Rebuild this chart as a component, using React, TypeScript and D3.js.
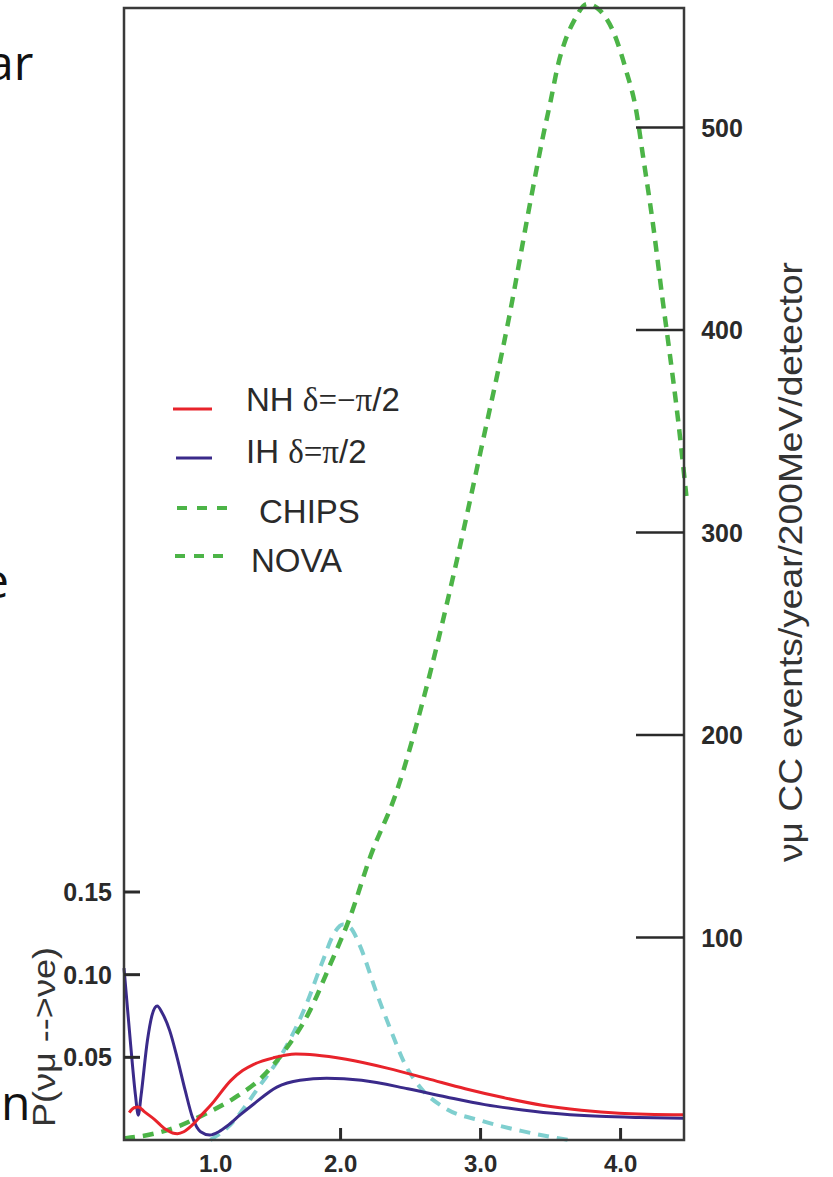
import React from "react";
import * as d3 from "d3";

const xTicks = [1, 2, 3, 4];
const xTickLabels = ["1.0", "2.0", "3.0", "4.0"];
const pTicks = [0.05, 0.1, 0.15];
const pTickLabels = ["0.05", "0.10", "0.15"];
const nTicks = [100, 200, 300, 400, 500];
const nTickLabels = ["100", "200", "300", "400", "500"];

// P(numu -> nue), NH delta = -pi/2
const nhE = [0.49, 0.525, 0.555, 0.6, 0.67, 0.75, 0.8, 0.835, 0.88, 0.94, 1.0, 1.08, 1.217, 1.3, 1.38, 1.52, 1.68, 1.82, 2.04, 2.34, 2.62, 2.89, 3.17, 3.44, 3.72, 3.99, 4.453];
const nhP = [0.0165, 0.0195, 0.02, 0.017, 0.0125, 0.0065, 0.0042, 0.0038, 0.005, 0.009, 0.0145, 0.0218, 0.0361, 0.042, 0.0458, 0.0497, 0.052, 0.0514, 0.0488, 0.0433, 0.0371, 0.031, 0.0255, 0.021, 0.018, 0.0162, 0.0152];

// IH delta = pi/2
const ihE = [0.453, 0.5, 0.535, 0.555, 0.575, 0.62, 0.655, 0.69, 0.725, 0.78, 0.832, 0.89, 0.942, 1.0, 1.066, 1.13, 1.19, 1.28, 1.38, 1.545, 1.71, 1.9, 2.15, 2.48, 2.755, 3.03, 3.3, 3.58, 3.85, 4.13, 4.453];
const ihP = [0.104, 0.058, 0.027, 0.015, 0.027, 0.06, 0.076, 0.081, 0.077, 0.066, 0.05, 0.03, 0.0137, 0.005, 0.003, 0.005, 0.0085, 0.015, 0.0218, 0.032, 0.0361, 0.0373, 0.0361, 0.031, 0.026, 0.0214, 0.0182, 0.0157, 0.0143, 0.0136, 0.0132];

// CHIPS event spectrum (right axis)
const chipsE = [0.453, 0.64, 0.85, 1.025, 1.245, 1.437, 1.6, 1.77, 1.93, 2.07, 2.21, 2.4, 2.6, 2.8, 3.0, 3.2, 3.36, 3.444, 3.5, 3.557, 3.6, 3.67, 3.76, 3.85, 3.95, 4.04, 4.11, 4.16, 4.23, 4.3, 4.35, 4.41, 4.47];
const chipsN = [0.8, 2.7, 7, 12.6, 20.9, 30.9, 44.1, 62.4, 87.3, 110.5, 139.5, 172, 220, 277, 340, 405, 465, 495, 513, 532, 542, 553, 561, 558, 547, 528, 509, 486, 453, 415, 389, 356, 318];

// NOVA event spectrum (right axis)
const novaE = [1.07, 1.19, 1.43, 1.594, 1.758, 1.867, 1.962, 2.017, 2.07, 2.14, 2.25, 2.36, 2.46, 2.57, 2.74, 3.01, 3.29, 3.63];
const novaN = [0, 6, 27.5, 44, 67.4, 87.4, 103, 106.4, 104.8, 95.6, 74, 54, 37.5, 25.9, 16, 9.4, 4.5, 0];

const legendLabels = ["NH", "IH", "CHIPS", "NOVA"];

const RED = "#e8232b";
const BLUE = "#3a2a8a";
const GREEN = "#4cb447";
const CYAN = "#7fcfcf";
const INK = "#2a2a2a";

export default function App() {
  const L = 124, R = 684, T = 8, B = 1140;
  const x = d3.scaleLinear().domain([0.453, 4.453]).range([L, R]);
  const yP = d3.scaleLinear().domain([0, 0.15]).range([B, 892]);
  const yN = d3.scaleLinear().domain([0, 500]).range([B, 127.5]);

  const pLine = d3
    .line<[number, number]>()
    .x((d) => x(d[0]))
    .y((d) => yP(d[1]))
    .curve(d3.curveMonotoneX);
  const nLine = d3
    .line<[number, number]>()
    .x((d) => x(d[0]))
    .y((d) => yN(d[1]))
    .curve(d3.curveMonotoneX);

  const zip = (a: number[], b: number[]) => a.map((v, i) => [v, b[i]] as [number, number]);

  const sans = "'Liberation Sans', Arial, Helvetica, sans-serif";
  const serif = "'Liberation Serif', 'Times New Roman', serif";
  const slide = "'Open Sans', 'Noto Sans', sans-serif";

  return (
    <svg
      width={833}
      height={1177}
      style={{ position: "absolute", left: 0, top: 0, background: "#fff" }}
    >
      {/* slide remnants */}
      <text x={-13} y={80} fontFamily={slide} fontSize={48} fill="#111">ar</text>
      <text x={-27} y={188} fontFamily={slide} fontSize={48} fill="#111">o</text>
      <text x={-18} y={598} fontFamily={slide} fontSize={48} fill="#111">e</text>
      <text x={1} y={1120} fontFamily={slide} fontSize={48} fill="#111">n</text>

      {/* event curves */}
      <path d={nLine(zip(novaE, novaN)) || ""} fill="none" stroke={CYAN} strokeWidth={4} strokeDasharray="11 8" />
      <path d={nLine(zip(chipsE, chipsN)) || ""} fill="none" stroke={GREEN} strokeWidth={4.5} strokeDasharray="11 8" />

      {/* probability curves */}
      <path d={pLine(zip(ihE, ihP)) || ""} fill="none" stroke={BLUE} strokeWidth={3} />
      <path d={pLine(zip(nhE, nhP)) || ""} fill="none" stroke={RED} strokeWidth={3} />

      {/* frame */}
      <rect x={L} y={T} width={R - L} height={B - T} fill="none" stroke="#3a3a3a" strokeWidth={2.5} />

      {/* bottom ticks */}
      {xTicks.map((v, i) => (
        <g key={"x" + v}>
          {i > 0 && <line x1={x(v)} x2={x(v)} y1={B} y2={B - 12} stroke={INK} strokeWidth={3} />}
          <text
            x={x(v) + (i === 0 ? 15 : 0)}
            y={1172}
            textAnchor="middle"
            fontFamily={sans}
            fontWeight="bold"
            fontSize={24}
            fill={INK}
          >
            {xTickLabels[i]}
          </text>
        </g>
      ))}

      {/* left ticks */}
      {pTicks.map((v, i) => (
        <g key={"p" + v}>
          <line x1={L} x2={L + 16} y1={yP(v)} y2={yP(v)} stroke={INK} strokeWidth={3} />
          <text
            x={112}
            y={yP(v) + 9}
            textAnchor="end"
            fontFamily={sans}
            fontWeight="bold"
            fontSize={25}
            fill={INK}
          >
            {pTickLabels[i]}
          </text>
        </g>
      ))}

      {/* right ticks */}
      {nTicks.map((v, i) => (
        <g key={"n" + v}>
          <line x1={R - 48} x2={R} y1={yN(v)} y2={yN(v)} stroke={INK} strokeWidth={2.5} />
          <text
            x={722}
            y={yN(v) + 9}
            textAnchor="middle"
            fontFamily={sans}
            fontWeight="bold"
            fontSize={25}
            fill={INK}
          >
            {nTickLabels[i]}
          </text>
        </g>
      ))}

      {/* axis titles */}
      <text
        transform="translate(802,562) rotate(-90)"
        textAnchor="middle"
        fontFamily={sans}
        fontSize={33}
        fill="#333"
        textLength={600}
        lengthAdjust="spacingAndGlyphs"
      >
        νμ CC events/year/200MeV/detector
      </text>
      <text
        transform="translate(55,1037) rotate(-90)"
        textAnchor="middle"
        fontFamily={sans}
        fontSize={32}
        fill="#333"
        textLength={180}
        lengthAdjust="spacingAndGlyphs"
      >
        P(νμ --&gt;νe)
      </text>

      {/* legend */}
      <line x1={173} x2={212} y1={409} y2={409} stroke={RED} strokeWidth={3} />
      <text x={246} y={411} fontFamily={sans} fontSize={33} fill={INK}>
        {legendLabels[0]} <tspan fontFamily={serif}>δ=−π</tspan>/2
      </text>
      <line x1={176} x2={212} y1={458} y2={458} stroke={BLUE} strokeWidth={3} />
      <text x={246} y={463} fontFamily={sans} fontSize={33} fill={INK}>
        {legendLabels[1]} <tspan fontFamily={serif}>δ=π</tspan>/2
      </text>
      <line x1={177} x2={227} y1={508} y2={508} stroke={GREEN} strokeWidth={4} strokeDasharray="10 10" />
      <text x={259} y={523} fontFamily={sans} fontSize={33} fill={INK}>
        {legendLabels[2]}
      </text>
      <line x1={175} x2={223} y1={556} y2={556} stroke={GREEN} strokeWidth={4} strokeDasharray="10 9" />
      <text x={251} y={572} fontFamily={sans} fontSize={33} fill={INK}>
        {legendLabels[3]}
      </text>
    </svg>
  );
}
